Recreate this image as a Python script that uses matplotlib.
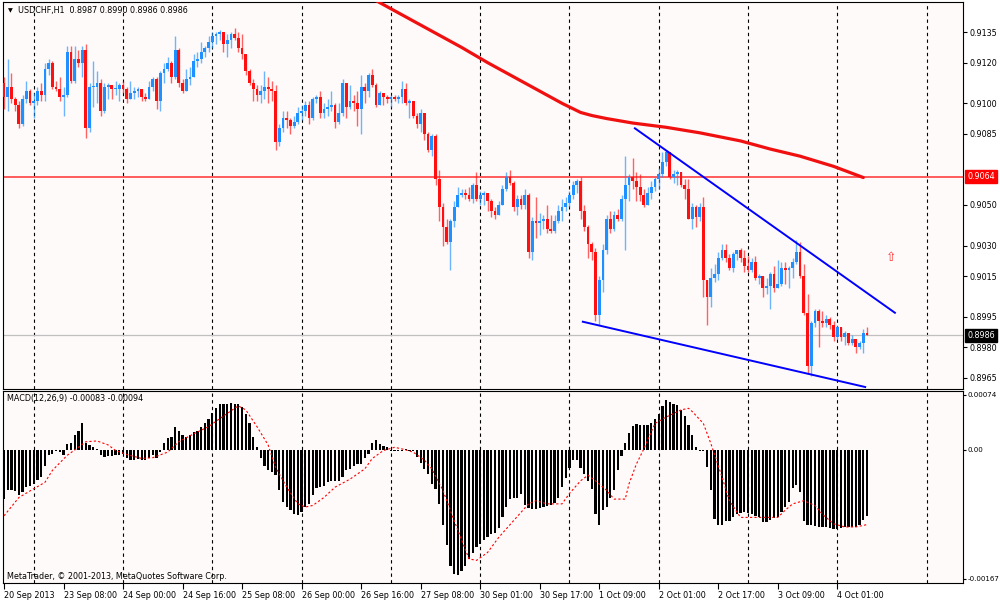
import numpy as np
import matplotlib.pyplot as plt
from matplotlib.transforms import blended_transform_factory

# USDCHF H1 candles, prices in pips (x 0.0001), one value per bar
first_open = 9110
closes = [
    9103, 9108, 9102, 9099, 9090, 9102, 9106, 9100, 9101, 9106,
    9104, 9117, 9120, 9108, 9107, 9103, 9104, 9125, 9111, 9122,
    9120, 9126, 9088, 9108, 9108, 9110, 9096, 9108, 9109, 9107,
    9107, 9109, 9107, 9102, 9105, 9106, 9107, 9103, 9102, 9108,
    9112, 9101, 9115, 9117, 9120, 9113, 9126, 9110, 9106, 9112,
    9113, 9121, 9122, 9125, 9127, 9130, 9133, 9134, 9135, 9129,
    9131, 9134, 9132, 9127, 9124, 9116, 9110, 9107, 9104, 9106,
    9108, 9107, 9106, 9081, 9088, 9093, 9092, 9089, 9091, 9095,
    9096, 9099, 9093, 9102, 9103, 9095, 9097, 9098, 9099, 9091,
    9095, 9110, 9098, 9101, 9100, 9097, 9108, 9106, 9114, 9109,
    9099, 9105, 9103, 9102, 9103, 9102, 9103, 9107, 9100, 9101,
    9094, 9090, 9095, 9085, 9077, 9084, 9063, 9049, 9039, 9032,
    9042, 9049, 9055, 9056, 9055, 9053, 9060, 9053, 9055, 9056,
    9052, 9047, 9045, 9050, 9058, 9064, 9061, 9049, 9053, 9050,
    9055, 9027, 9042, 9041, 9042, 9043, 9038, 9037, 9042, 9047,
    9049, 9051, 9055, 9060, 9062, 9047, 9039, 9031, 9027, 8996,
    9013, 9028, 9043, 9038, 9045, 9043, 9053, 9060, 9064, 9062,
    9059, 9055, 9050, 9056, 9059, 9063, 9065, 9071, 9076, 9064,
    9065, 9066, 9060, 9058, 9043, 9049, 9044, 9049, 9013, 9005,
    9014, 9016, 9024, 9028, 9024, 9019, 9026, 9028, 9024, 9020,
    9018, 9022, 9014, 9015, 9009, 9010, 9016, 9009, 9011, 9019,
    9018, 9019, 9022, 9027, 9015, 8997, 8971, 8992, 8998, 8993,
    8992, 8994, 8991, 8985, 8990, 8985, 8987, 8982, 8984, 8980,
    8982, 8987, 8986,
]
highs = [
    9113, 9122, 9115, 9103, 9101, 9104, 9111, 9107, 9105, 9108,
    9110, 9120, 9122, 9121, 9111, 9113, 9108, 9128, 9128, 9128,
    9126, 9128, 9129, 9110, 9121, 9116, 9112, 9110, 9110, 9109,
    9111, 9110, 9111, 9108, 9111, 9108, 9108, 9106, 9105, 9111,
    9113, 9113, 9116, 9120, 9123, 9121, 9133, 9127, 9112, 9117,
    9118, 9124, 9125, 9130, 9128, 9133, 9135, 9135, 9136, 9134,
    9134, 9135, 9137, 9135, 9134, 9124, 9117, 9112, 9109, 9109,
    9116, 9113, 9111, 9109, 9090, 9096, 9096, 9093, 9094, 9098,
    9099, 9101, 9101, 9103, 9104, 9106, 9100, 9102, 9106, 9100,
    9100, 9112, 9109, 9109, 9104, 9106, 9114, 9110, 9115, 9117,
    9110, 9106, 9105, 9104, 9104, 9104, 9104, 9111, 9110, 9102,
    9098, 9095, 9097, 9090, 9086, 9085, 9085, 9067, 9051, 9043,
    9043, 9052, 9059, 9058, 9058, 9059, 9061, 9066, 9057, 9057,
    9055, 9053, 9049, 9052, 9060, 9066, 9067, 9062, 9055, 9055,
    9058, 9056, 9044, 9054, 9046, 9045, 9050, 9045, 9045, 9050,
    9053, 9054, 9057, 9062, 9063, 9064, 9050, 9040, 9032, 9029,
    9015, 9031, 9045, 9047, 9047, 9048, 9055, 9074, 9065, 9073,
    9066, 9065, 9058, 9059, 9062, 9064, 9068, 9076, 9077, 9076,
    9067, 9067, 9066, 9063, 9063, 9051, 9050, 9051, 9054, 9013,
    9019, 9021, 9027, 9031, 9031, 9026, 9027, 9028, 9029, 9028,
    9025, 9024, 9025, 9016, 9013, 9014, 9017, 9020, 9023, 9022,
    9022, 9020, 9024, 9033, 9032, 9021, 9006, 8993, 8999, 8999,
    8998, 8996, 8995, 8993, 8991, 8990, 8988, 8986, 8986, 8983,
    8983, 8989, 8990,
]
lows = [
    9097, 9096, 9100, 9096, 9088, 9089, 9100, 9099, 9093, 9099,
    9101, 9101, 9114, 9107, 9106, 9101, 9094, 9103, 9110, 9110,
    9118, 9113, 9083, 9086, 9098, 9100, 9094, 9095, 9102, 9102,
    9104, 9101, 9105, 9100, 9102, 9102, 9103, 9101, 9101, 9105,
    9106, 9097, 9096, 9110, 9116, 9110, 9112, 9108, 9105, 9107,
    9109, 9113, 9118, 9120, 9123, 9125, 9127, 9129, 9131, 9125,
    9123, 9127, 9131, 9125, 9122, 9114, 9109, 9101, 9101, 9100,
    9102, 9100, 9101, 9077, 9079, 9086, 9088, 9085, 9088, 9090,
    9092, 9094, 9090, 9092, 9100, 9093, 9093, 9094, 9096, 9088,
    9090, 9094, 9093, 9097, 9096, 9089, 9085, 9100, 9103, 9108,
    9098, 9099, 9099, 9100, 9098, 9101, 9100, 9100, 9099, 9093,
    9093, 9088, 9086, 9082, 9076, 9074, 9060, 9042, 9030, 9031,
    9018, 9039, 9049, 9054, 9053, 9052, 9051, 9052, 9050, 9050,
    9047, 9044, 9043, 9046, 9050, 9057, 9060, 9047, 9045, 9048,
    9048, 9024, 9023, 9034, 9035, 9038, 9036, 9036, 9036, 9041,
    9042, 9047, 9049, 9053, 9056, 9043, 9037, 9024, 9023, 8993,
    8991, 9007, 9026, 9036, 9037, 9042, 9042, 9028, 9052, 9058,
    9052, 9052, 9049, 9050, 9053, 9057, 9058, 9064, 9069, 9063,
    9061, 9060, 9059, 9053, 9043, 9038, 9039, 9042, 9005, 8991,
    9000, 9012, 9013, 9023, 9022, 9018, 9017, 9023, 9022, 9017,
    9017, 9017, 9013, 9011, 9005, 9006, 8999, 9007, 9009, 9010,
    9011, 9009, 9014, 9021, 9014, 8996, 8967, 8966, 8990, 8980,
    8990, 8990, 8989, 8983, 8984, 8983, 8981, 8981, 8981, 8977,
    8979, 8977, 8986,
]

# MACD histogram (x 1e-5), one value per bar
macd_hist = [
    -62, -51, -51, -52, -57, -53, -47, -46, -43, -38,
    -34, -20, -7, -5, -2, -3, -7, 7, 8, 18,
    24, 33, 8, 6, 3, 1, -7, -9, -8, -8,
    -7, -7, -6, -11, -13, -13, -12, -13, -13, -11,
    -7, -10, -3, 8, 15, 16, 28, 24, 18, 16,
    18, 22, 24, 28, 34, 39, 46, 52, 58, 57,
    58, 59, 57, 57, 54, 45, 34, 16, 3, -11,
    -20, -25, -28, -32, -51, -66, -72, -76, -81, -82,
    -78, -72, -68, -57, -48, -47, -45, -41, -39, -39,
    -39, -34, -25, -24, -20, -18, -18, -11, -5, 8,
    12, 7, 5, 3, -1, -1, -2, -1, 1, -1,
    -2, -9, -17, -24, -30, -43, -49, -68, -95, -120,
    -146, -156, -157, -152, -146, -137, -130, -122, -118, -113,
    -109, -106, -104, -98, -85, -72, -62, -60, -60, -56,
    -70, -73, -74, -74, -73, -72, -71, -70, -67, -60,
    -47, -35, -23, -13, -13, -23, -30, -39, -49, -81,
    -94, -76, -72, -60, -51, -26, -8, 9, 21, 30,
    32, 31, 31, 31, 34, 39, 45, 55, 62, 60,
    58, 56, 50, 42, 31, 18, 3, -1, -1, -22,
    -51, -87, -95, -94, -89, -89, -85, -81, -79, -78,
    -80, -81, -83, -84, -91, -91, -88, -86, -84, -78,
    -72, -66, -48, -44, -53, -89, -94, -95, -96, -97,
    -97, -97, -98, -99, -99, -98, -97, -97, -97, -97,
    -94, -88, -83,
]

# MACD signal line read at points (bar index, x 1e-5)
sig_idx = [0, 4, 8, 11, 13, 17, 20, 22, 25, 28, 30, 33, 37, 40, 44, 47, 51, 55, 58, 62,
           63, 65, 68, 71, 73, 76, 79, 81, 83, 86, 89, 93, 97, 99, 102, 105, 107, 110, 113, 115,
           118, 121, 124, 125, 127, 130, 133, 137, 141, 143, 146, 150, 152, 155, 157, 159, 162, 164, 167, 168,
           170, 172, 175, 178, 182, 184, 185, 188, 190, 193, 195, 198, 201, 204, 208, 210, 212, 215, 218, 220,
           223, 226, 229, 232]
sig_val = [-83, -60, -49, -41, -26, -7, 3, 10, 11, 6, -1, -6, -11, -10, -3, 10, 20, 29, 39, 52,
           55, 50, 29, 6, -22, -47, -68, -72, -70, -60, -47, -37, -24, -11, -1, 3, 1, -3, -13, -24,
           -51, -89, -125, -137, -139, -129, -110, -89, -68, -64, -68, -68, -55, -39, -32, -39, -51, -62, -62, -43,
           -18, 1, 33, 41, 50, 52, 48, 33, 8, -34, -64, -85, -85, -85, -85, -76, -68, -64, -70, -81,
           -93, -97, -97, -94]

# long moving average (red), read at points
ma_idx = [99, 112, 123, 130, 141, 150, 155, 158, 162, 169, 178, 187, 198, 206, 214, 223, 231]
ma_val = [9151.5, 9138.5, 9127.5, 9120, 9109, 9100, 9095.5, 9094, 9092.5, 9090.3, 9088.2,
          9085.5, 9081.5, 9077.5, 9074, 9069, 9063.5]

# trend lines (bar index, price)
upper_x = [169.6, 239.5]
upper_y = [0.90877, 0.89970]
lower_x = [155.6, 231.5]
lower_y = [0.89926, 0.89605]

level_price = 0.9064
bid_price = 0.8986

price_ticks = [0.9135, 0.9120, 0.9100, 0.9085, 0.9050, 0.9030, 0.9015, 0.8995, 0.8980, 0.8965]
date_labels = ['20 Sep 2013', '23 Sep 08:00', '24 Sep 00:00', '24 Sep 16:00', '25 Sep 08:00',
               '26 Sep 00:00', '26 Sep 16:00', '27 Sep 08:00', '30 Sep 01:00', '30 Sep 17:00',
               '1 Oct 09:00', '2 Oct 01:00', '2 Oct 17:00', '3 Oct 09:00', '4 Oct 01:00']

plt.rcParams['font.family'] = ['DejaVu Sans']
fs = 5.8
bg = '#FFFAFA'

fig = plt.figure(figsize=(10, 6), dpi=100)
fig.patch.set_facecolor('white')
ax = fig.add_axes([0.003, 0.3517, 0.960, 0.645], facecolor=bg)
axm = fig.add_axes([0.003, 0.0288, 0.960, 0.3195], facecolor=bg, sharex=ax)

c = np.array(closes) / 10000
o = np.r_[first_open / 10000, c[:-1]]
h = np.maximum(np.array(highs) / 10000, np.maximum(o, c))
l = np.minimum(np.array(lows) / 10000, np.minimum(o, c))
x = np.arange(len(c))
col = np.where(c >= o, '#1E90FF', '#FF1010')

# candles
ax.vlines(x, l, h, colors=col, lw=1, alpha=0.65, zorder=3)
ax.bar(x, np.maximum(np.abs(c - o), 0.00004), 0.75, bottom=np.minimum(o, c),
       color=col, lw=0, zorder=4)

# lines
ax.plot(ma_idx, np.array(ma_val) / 10000, color='#F01010', lw=2.3, zorder=5,
        solid_capstyle='round', solid_joinstyle='round')
ax.plot(upper_x, upper_y, color='#0000FF', lw=1.4, zorder=5)
ax.plot(lower_x, lower_y, color='#0000FF', lw=1.4, zorder=5)
ax.axhline(level_price, color='#FF3030', lw=1.1, zorder=2)
ax.axhline(bid_price, color='#C0C0C0', lw=0.9, zorder=2)
ax.text(238.4, 0.90241, '\u21e7', color='#FF3030', fontsize=9, ha='center', va='center')

for a in (ax, axm):
    for k in range(8, 256, 24):
        a.axvline(k, color='black', lw=0.8, ls=(0, (3, 3)), zorder=1)
    for s in a.spines.values():
        s.set_linewidth(0.8)
        s.set_color('black')

ax.set_xlim(-0.27, 257.8)
ax.set_ylim(0.895953, 0.914982)
ax.yaxis.tick_right()
ax.set_yticks(price_ticks)
ax.set_yticklabels(['%.4f' % p for p in price_ticks])
ax.tick_params(axis='y', direction='out', length=3, labelsize=fs, pad=2)
ax.tick_params(axis='x', bottom=False, labelbottom=False)

trans = blended_transform_factory(ax.transAxes, ax.transData)
ax.text(1.0045, level_price, '%.4f' % level_price, transform=trans, color='white',
        fontsize=fs, ha='left', va='center',
        bbox=dict(boxstyle='square,pad=0.25', fc='#FF0000', ec='#FF0000'))
ax.text(1.0045, bid_price, '%.4f' % bid_price, transform=trans, color='white',
        fontsize=fs, ha='left', va='center',
        bbox=dict(boxstyle='square,pad=0.25', fc='black', ec='black'))

ax.text(0.0075, 0.977, '\u25bc', transform=ax.transAxes, fontsize=4.5, ha='center', va='center')
ax.text(0.0157, 0.977, 'USDCHF,H1  0.8987 0.8990 0.8986 0.8986', transform=ax.transAxes,
        fontsize=fs, ha='left', va='center')

# MACD panel
axm.bar(x, np.array(macd_hist) * 1e-5, 0.6, color='black', lw=0, zorder=3)
axm.plot(sig_idx, np.array(sig_val) * 1e-5, color='#FF0000', lw=0.8, ls=(0, (2, 2)), zorder=4)
axm.set_ylim(-0.00167, 0.000737)
axm.yaxis.tick_right()
axm.set_yticks([0.00069, 0.0, -0.00162])
axm.set_yticklabels(['0.00074', '0.00', '-0.00167'])
axm.tick_params(axis='y', direction='out', length=2, labelsize=5.1, pad=1)
axm.set_xticks(np.arange(0, 16 * len(date_labels), 16))
axm.set_xticklabels(date_labels, ha='left')
axm.tick_params(axis='x', direction='out', length=4, labelsize=fs, pad=2)
axm.text(0.004, 0.963, 'MACD(12,26,9) -0.00083 -0.00094', transform=axm.transAxes,
         fontsize=fs, ha='left', va='center')
axm.text(0.004, 0.034, 'MetaTrader, \u00a9 2001-2013, MetaQuotes Software Corp.',
         transform=axm.transAxes, fontsize=fs, ha='left', va='center')

fig.savefig('out.png', dpi=100, facecolor=fig.get_facecolor())
